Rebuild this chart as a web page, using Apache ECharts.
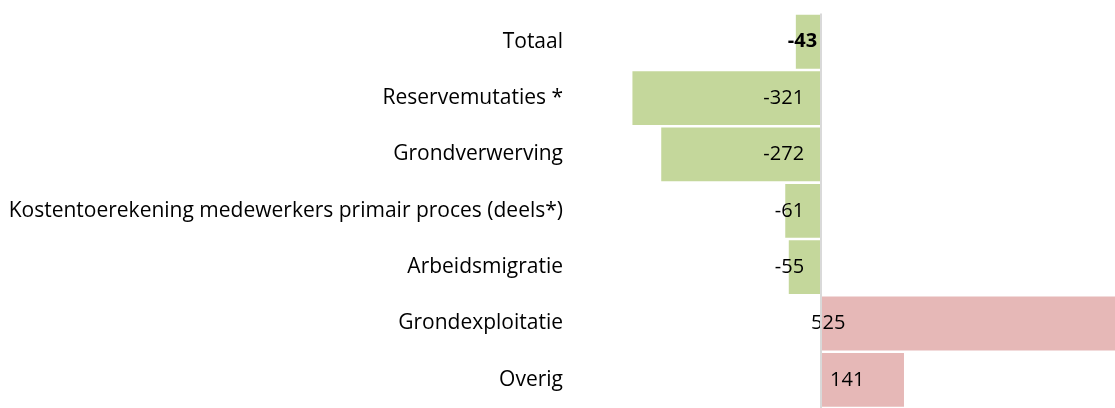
<!DOCTYPE html>
<html>
<head>
<meta charset="utf-8">
<script src="https://cdn.jsdelivr.net/npm/echarts@6/dist/echarts.min.js"></script>
<style>
  html, body { margin: 0; padding: 0; background: #fff; }
  #chart { width: 1115px; height: 408px; }
</style>
</head>
<body>
<div id="chart"></div>
<script>
var categories = ['Totaal', 'Reservemutaties *', 'Grondverwerving',
    'Kostentoerekening medewerkers primair proces (deels*)',
    'Arbeidsmigratie', 'Grondexploitatie', 'Overig'];
var values = [-43, -321, -272, -61, -55, 525, 141];

// label tweaks per bar (Excel positioned these by hand)
var labelDist = [4, 17, 17, 17, 17, -10, 9];

var chartDom = document.getElementById('chart');
var myChart = echarts.init(chartDom);
var font = 'Open Sans';

var seriesData = values.map(function (v, i) {
    return {
        value: v,
        itemStyle: { color: v < 0 ? '#c4d79b' : '#e6b8b7' },
        label: {
            show: true,
            position: v < 0 ? 'insideRight' : 'insideLeft',
            distance: labelDist[i],
            fontWeight: i === 0 ? 'bold' : 'normal'
        }
    };
});

var option = {
    animation: false,
    grid: { left: 586, right: -1, top: 13.6, bottom: -9.6 },
    xAxis: {
        type: 'value',
        min: -400,
        max: 500,
        show: false
    },
    yAxis: {
        type: 'category',
        inverse: true,
        data: categories,
        axisLine: { show: false },
        axisTick: { show: false },
        axisLabel: {
            margin: 23,
            fontFamily: font,
            fontSize: 21,
            color: '#000'
        }
    },
    series: [
        {
            type: 'bar',
            barCategoryGap: '4.5%',
            data: seriesData,
            label: {
                fontFamily: font,
                fontSize: 20,
                color: '#000'
            },
            markLine: {
                silent: true,
                symbol: 'none',
                label: { show: false },
                lineStyle: { color: '#d9d9d9', width: 2, type: 'solid' },
                data: [{ xAxis: 0 }]
            }
        }
    ]
};
option && myChart.setOption(option);
</script>
</body>
</html>
